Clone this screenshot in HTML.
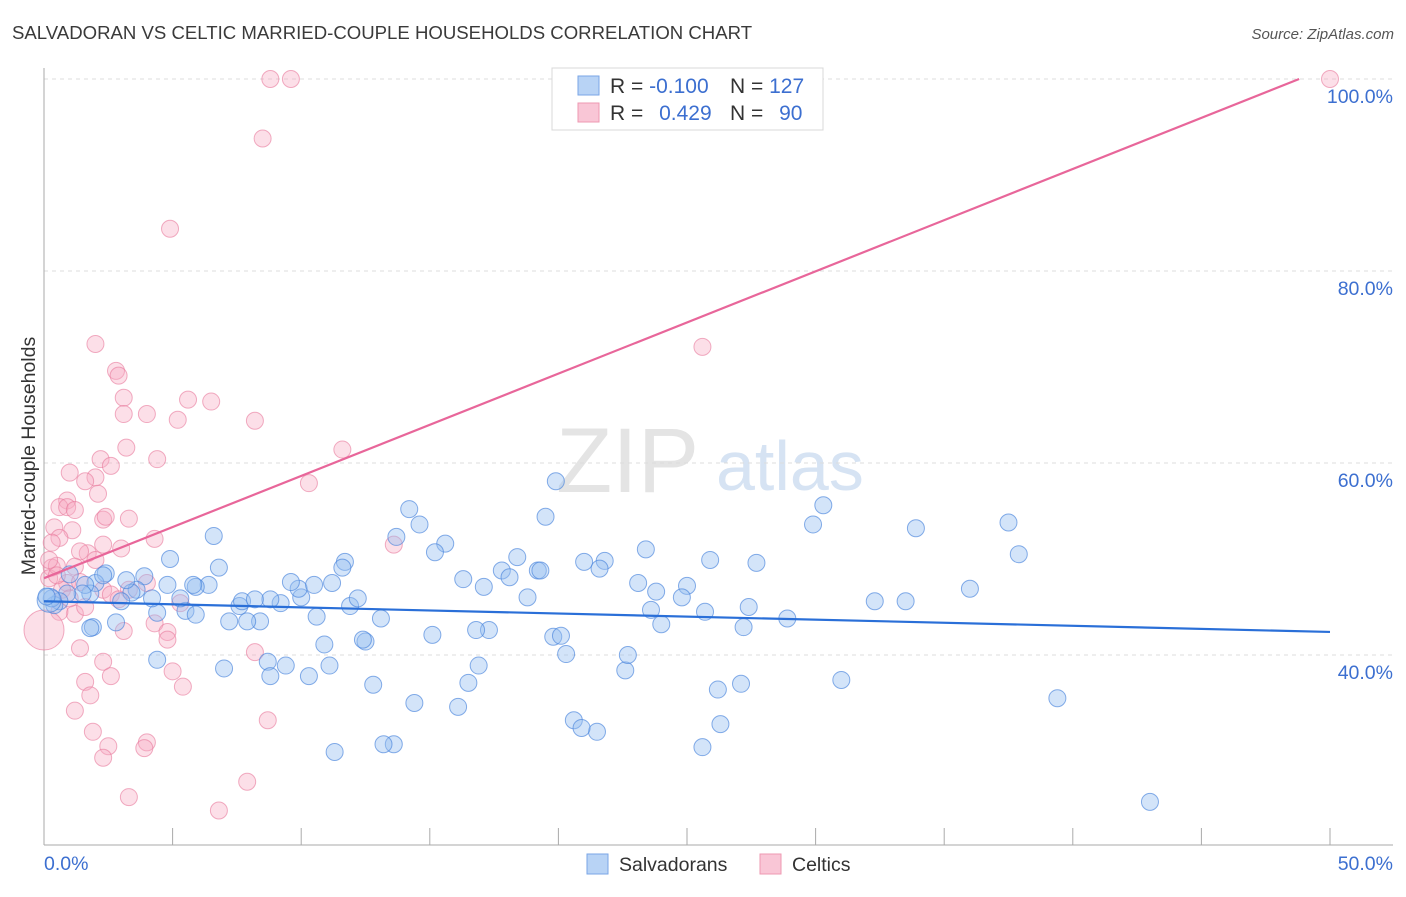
<!DOCTYPE html>
<html><head><meta charset="utf-8">
<style>
body{margin:0;background:#fff;font-family:"Liberation Sans",sans-serif;}
svg text{font-family:"Liberation Sans",sans-serif;}
</style></head>
<body>
<svg id="chart" width="1406" height="892" xmlns="http://www.w3.org/2000/svg">
<text x="12" y="39" font-size="18.6" fill="#3a3a3a">SALVADORAN VS CELTIC MARRIED-COUPLE HOUSEHOLDS CORRELATION CHART</text>
<text x="1394" y="39" font-size="15" fill="#555" text-anchor="end" font-style="italic">Source: ZipAtlas.com</text>
<g>
<text x="556" y="492" font-size="92" fill="#e4e4e4" font-family="Liberation Serif,serif">ZIP</text>
<text x="716" y="490" font-size="70" fill="#d6e3f3">atlas</text>
</g>
<g id="grid"></g>
<g id="axes"></g>
<g id="pts"></g>
<g id="lines"></g>
<text x="35" y="456" font-size="19.5" fill="#333" text-anchor="middle" transform="rotate(-90 35 456)">Married-couple Households</text>
<g>
<rect x="552" y="68" width="271" height="62" fill="#fff" stroke="#d8d8d8"/>
<rect x="578" y="76" width="21" height="19" fill="#b8d3f5" stroke="#7aa6e6"/>
<rect x="578" y="103" width="21" height="19" fill="#f9c6d6" stroke="#ee98b2"/>
<text x="610" y="93" font-size="21" fill="#333">R = <tspan fill="#3c6fd0">-0.100</tspan></text>
<text x="730" y="93" font-size="21" fill="#333">N = <tspan fill="#3c6fd0">127</tspan></text>
<text x="610" y="120" font-size="21" fill="#333">R = <tspan fill="#3c6fd0" dx="10">0.429</tspan></text>
<text x="730" y="120" font-size="21" fill="#333">N = <tspan fill="#3c6fd0" dx="10">90</tspan></text>
</g>
<g>
<rect x="587" y="854" width="21" height="20" fill="#b8d3f5" stroke="#7aa6e6"/>
<text x="619" y="871" font-size="19.5" fill="#333">Salvadorans</text>
<rect x="760" y="854" width="21" height="20" fill="#f9c6d6" stroke="#ee98b2"/>
<text x="792" y="871" font-size="19.5" fill="#333">Celtics</text>
</g>
</svg>
<script>
const yTicks=[40,60,80,100];
const yTickLabels=["40.0%","60.0%","80.0%","100.0%"];
const xTickLabels=["0.0%","50.0%"];
const blueX=[19.9,19.5,30.3,29.9,33.9,37.5,37.9,14.2,13.7,14.6,15.6,15.2,18.4,21.0,21.8,21.6,23.4,25.9,27.7,19.2,19.3,17.8,18.1,16.3,17.1,18.8,23.1,25.0,23.8,24.8,27.4,25.7,23.6,27.2,28.9,24.0,32.3,33.5,36.0,39.4,43.0,31.0,27.1,26.2,26.3,25.6,21.5,20.6,20.9,22.6,22.7,20.3,19.8,20.1,17.3,16.8,16.9,16.5,16.1,15.1,14.4,13.6,13.2,12.8,13.1,12.5,12.4,11.9,12.2,11.7,11.6,11.2,10.9,11.1,11.3,10.0,9.9,9.6,10.6,10.5,9.2,8.8,8.7,8.8,9.4,10.3,8.4,7.9,7.6,7.7,7.2,8.2,7.0,6.8,6.6,6.4,5.9,5.8,5.5,5.3,5.9,4.9,4.8,4.4,4.4,4.2,3.9,3.6,3.4,3.0,3.2,2.4,2.0,1.8,1.6,1.5,1.0,0.9,0.6,0.4,0.3,0.2,0.1,1.9,2.8,2.3,1.8];
const blueY=[58.1,54.4,55.6,53.6,53.2,53.8,50.5,55.2,52.3,53.6,51.6,50.7,50.2,49.7,49.8,49.0,51.0,49.9,49.6,48.8,48.8,48.8,48.1,47.9,47.1,46.0,47.5,47.2,46.6,46.0,45.0,44.5,44.7,42.9,43.8,43.2,45.6,45.6,46.9,35.5,24.7,37.4,37.0,36.4,32.8,30.4,32.0,33.2,32.4,38.4,40.0,40.1,41.9,42.0,42.6,42.6,38.9,37.1,34.6,42.1,35.0,30.7,30.7,36.9,43.8,41.4,41.6,45.1,45.9,49.7,49.1,47.5,41.1,38.9,29.9,46.0,46.9,47.6,44.0,47.3,45.4,45.8,39.3,37.8,38.9,37.8,43.5,43.5,45.1,45.6,43.5,45.8,38.6,49.1,52.4,47.3,47.1,47.3,44.6,45.9,44.2,50.0,47.3,44.4,39.5,45.9,48.2,46.8,46.5,45.6,47.8,48.5,47.5,46.4,47.3,46.4,48.4,46.4,45.6,45.2,45.9,45.7,46.1,42.9,43.4,48.3,42.8];
const blueSize=blueX.map((v,i)=>i===121?12:8.5);
const pinkX=[8.8,9.6,50,8.5,4.9,25.6,2.0,2.8,2.9,3.1,3.1,4.0,5.6,6.5,8.2,5.2,4.4,3.2,11.6,2.2,2.6,1.0,2.0,1.6,10.3,0.9,2.1,0.6,0.9,1.2,0.4,1.1,0.6,0.3,2.3,2.4,3.3,4.3,3.0,2.3,1.7,1.4,1.2,0.3,0.2,0.5,0.9,1.4,2.3,3.3,4.0,13.6,2.6,2.9,5.3,4.3,4.8,3.1,1.2,1.6,0.6,0,1.4,4.8,2.3,2.6,5.0,5.4,1.6,1.8,1.2,1.9,2.5,2.3,4.0,3.9,8.2,8.7,7.9,6.8,3.3,0.7,1.0,0.5,2.0,0.2];
const pinkY=[100,100,100,93.8,84.4,72.1,72.4,69.6,69.1,66.8,65.1,65.1,66.6,66.4,64.4,64.5,60.4,61.6,61.4,60.4,59.7,59.0,58.5,58.1,57.9,56.1,56.8,55.4,55.4,55.1,53.3,53.0,52.2,51.7,54.1,54.4,54.2,52.1,51.1,51.5,50.6,50.8,49.2,49.1,48.0,49.3,47.5,47.6,46.8,46.8,47.5,51.5,46.3,45.8,45.4,43.3,42.4,42.5,44.3,45.0,44.5,42.6,40.7,41.6,39.3,37.8,38.3,36.7,37.2,35.8,34.2,32.0,30.5,29.3,30.9,30.3,40.3,33.2,26.8,23.8,25.2,46.8,45.9,48.3,49.9,49.9];
const pinkSize=pinkX.map((v,i)=>i===61?20:8.5);
const blueTrend=[45.6,42.4];
const pinkTrend=[48.0,100];
const pinkTrendEndX=48.8;

const X0=44,X1=1330,Y100=79,Y40=655;
const sx=v=>X0+(X1-X0)*v/50;
const sy=v=>Y40-(v-40)*(Y40-Y100)/60;
const NS="http://www.w3.org/2000/svg";
function mk(t,a,p){const e=document.createElementNS(NS,t);for(const k in a)e.setAttribute(k,a[k]);p.appendChild(e);return e;}
const grid=document.getElementById('grid'),axes=document.getElementById('axes'),pts=document.getElementById('pts'),lines=document.getElementById('lines');
yTicks.forEach((t,i)=>{
 const l=mk('line',{x1:X0,x2:1393,y1:sy(t),y2:sy(t),stroke:'#dcdcdc','stroke-dasharray':'4 4'},grid);
 
 
 const tx=mk('text',{x:1393,y:sy(t)+24,'font-size':19.5,fill:'#3c6fd0','text-anchor':'end'},grid);
 tx.textContent=yTickLabels[i];
 
 
});
const ya=mk('line',{x1:X0,x2:X0,y1:68,y2:845,stroke:'#aaa'},axes);


const xa=mk('line',{x1:X0,x2:1393,y1:845,y2:845,stroke:'#aaa'},axes);


for(let k=0;k<=10;k++){
 const tk=mk('line',{x1:sx(k*5),x2:sx(k*5),y1:828,y2:845,stroke:'#aaa'},axes);
 
 
}
const xl0=mk('text',{x:44,y:870,'font-size':19.5,fill:'#3c6fd0'},axes);xl0.textContent=xTickLabels[0];


const xl1=mk('text',{x:1393,y:870,'font-size':19.5,fill:'#3c6fd0','text-anchor':'end'},axes);xl1.textContent=xTickLabels[1];


pinkX.forEach((v,i)=>{
 const c=mk('circle',{cx:sx(v),cy:sy(pinkY[i]),r:pinkSize[i],fill:'rgba(246,170,194,0.38)',stroke:'rgba(232,120,155,0.6)','stroke-width':1},pts);
 
 
});
blueX.forEach((v,i)=>{
 const c=mk('circle',{cx:sx(v),cy:sy(blueY[i]),r:blueSize[i],fill:'rgba(150,190,240,0.42)',stroke:'rgba(70,130,220,0.65)','stroke-width':1},pts);
 
 
});
const bt=mk('line',{x1:sx(0),y1:sy(blueTrend[0]),x2:sx(50),y2:sy(blueTrend[1]),stroke:'#2a6fd8','stroke-width':2.2},lines);


const pt=mk('line',{x1:sx(0),y1:sy(pinkTrend[0]),x2:sx(pinkTrendEndX),y2:sy(pinkTrend[1]),stroke:'#e8669a','stroke-width':2.2},lines);


</script>
</body></html>
